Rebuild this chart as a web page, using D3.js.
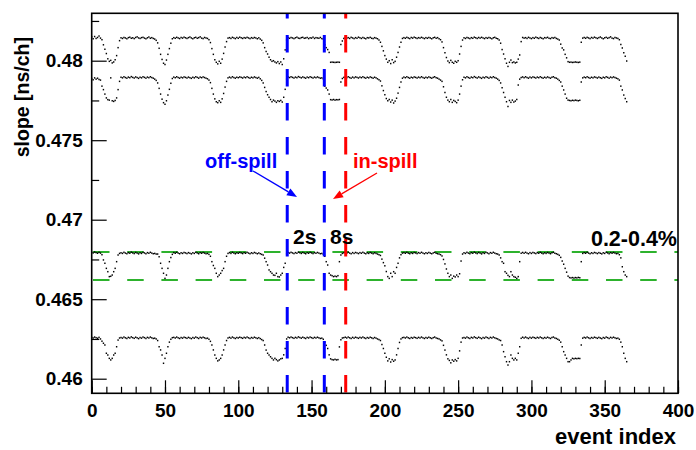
<!DOCTYPE html>
<html><head><meta charset="utf-8">
<script src="https://cdn.jsdelivr.net/npm/d3@7"></script>
<style>
body{margin:0;background:#fff}
svg{display:block}
text{font-family:"Liberation Sans",Arial,Helvetica,sans-serif;font-weight:bold}
</style></head>
<body><svg id="c" width="696" height="450"></svg>
<script>
// ---- data: slope [ns/ch] per event index (index = position in array) ----
const slopeA = [
.48150,.48138,.48152,.48140,.48146,.48155,.48142,.48132,
.48100,.48072,.48045,.48012,.47996,.48002,.47986,.47992,.48006,.48032,.48082,.48126,
.48144,.48140,.48146,.48143,.48138,.48145,.48148,.48141,.48144,.48139,.48146,.48150,.48143,.48140,.48145,.48147,.48142,.48138,.48144,.48149,.48141,.48145,.48140,.48136,.48128,
.48112,.48078,.48040,.48008,.47984,.47976,.48004,.48040,.48076,.48110,.48138,
.48145,.48141,.48147,.48143,.48139,.48146,.48142,.48148,.48144,.48140,.48145,.48149,.48143,.48138,.48144,.48147,.48141,.48145,.48150,.48142,.48139,.48146,.48143,.48140,.48132,
.48114,.48076,.48040,.48006,.47990,.47980,.47996,.47984,.48010,.48046,.48086,.48120,.48142,
.48145,.48140,.48147,.48143,.48139,.48146,.48141,.48148,.48144,.48140,.48145,.48142,.48147,.48143,.48139,.48145,.48141,.48146,.48143,.48138,.48144,.48136,.48128,
.48112,.48082,.48058,.48042,.48022,.48006,.47996,.48000,.47992,.47986,.47994,.47982,.47992,.47976,.48012,.48068,.48130,
.48145,.48141,.48146,.48143,.48139,.48144,.48148,.48142,.48140,.48145,.48147,.48141,.48143,.48146,.48139,.48144,.48142,.48148,.48140,.48145,.48143,.48141,.48146,.48139,.48136,
.48100,.48082,.48070,.48052,.47990,.47991,.47990,.47989,.47990,.47991,.47990,.48102,.48124,.48140,
.48146,.48142,.48145,.48140,.48147,.48143,.48139,.48145,.48141,.48148,.48144,.48140,.48146,.48142,.48138,.48145,.48143,.48147,.48141,.48139,.48145,.48142,.48138,.48130,
.48116,.48090,.48062,.48032,.48010,.47990,.48000,.47982,.48006,.47988,.47996,.48022,.48052,.48086,.48116,.48140,
.48145,.48141,.48147,.48143,.48139,.48146,.48142,.48148,.48144,.48140,.48145,.48142,.48147,.48143,.48139,.48145,.48141,.48146,.48143,.48138,.48144,.48147,.48141,.48145,.48138,.48132,
.48118,.48082,.48050,.48020,.47998,.47988,.48002,.47990,.47984,.47996,.47990,.48000,.48042,.48090,.48130,
.48144,.48140,.48146,.48143,.48139,.48145,.48141,.48148,.48144,.48140,.48146,.48142,.48147,.48143,.48139,.48145,.48141,.48146,.48143,.48138,.48144,.48147,.48141,.48138,.48130,
.48110,.48070,.48042,.48012,.47984,.47964,.47990,.48004,.47988,.47992,.47986,.47990,.48010,.48036,.48120,
.48146,.48142,.48145,.48140,.48147,.48143,.48139,.48145,.48141,.48148,.48144,.48140,.48146,.48142,.48138,.48145,.48143,.48147,.48141,.48139,.48145,.48142,.48146,.48140,.48136,.48130,
.48104,.48080,.48068,.48040,.48018,.47994,.47990,.47991,.47989,.47990,.47992,.47990,.47989,.47991,.48116,.48142,
.48146,.48141,.48147,.48143,.48139,.48146,.48142,.48148,.48144,.48140,.48145,.48149,.48143,.48138,.48144,.48147,.48141,.48145,.48150,.48142,.48139,.48146,.48143,.48140,.48132,
.48102,.48080,.48050,.48028,.47998
];
const slopeB = [
.47888,.47880,.47892,.47884,.47890,.47882,.47878,.47840,
.47818,.47790,.47766,.47755,.47752,.47892,.47748,.47744,.47750,.47766,.47818,.47870,
.47896,.47892,.47899,.47894,.47890,.47897,.47893,.47900,.47895,.47891,.47898,.47894,.47889,.47896,.47892,.47899,.47895,.47890,.47897,.47893,.47899,.47894,.47890,.47884,.47876,
.47860,.47826,.47790,.47758,.47736,.47726,.47748,.47784,.47820,.47858,.47888,
.47897,.47893,.47899,.47894,.47890,.47896,.47892,.47898,.47895,.47891,.47897,.47893,.47889,.47896,.47892,.47899,.47895,.47890,.47897,.47893,.47898,.47894,.47890,.47886,.47878,
.47862,.47826,.47790,.47760,.47742,.47736,.47748,.47738,.47760,.47794,.47834,.47870,.47892,
.47897,.47892,.47899,.47894,.47890,.47896,.47893,.47898,.47895,.47891,.47897,.47893,.47899,.47894,.47890,.47896,.47892,.47898,.47894,.47890,.47895,.47886,.47876,
.47860,.47832,.47806,.47786,.47770,.47756,.47742,.47752,.47746,.47738,.47748,.47744,.47750,.47740,.47770,.47820,.47884,
.47898,.47894,.47899,.47895,.47891,.47897,.47893,.47900,.47896,.47892,.47898,.47894,.47890,.47897,.47893,.47899,.47895,.47891,.47897,.47893,.47898,.47894,.47890,.47892,.47886,
.47840,.47828,.47816,.47790,.47755,.47753,.47756,.47752,.47755,.47754,.47756,.47866,.47888,.47895,
.47898,.47893,.47899,.47894,.47890,.47897,.47892,.47898,.47895,.47891,.47897,.47893,.47899,.47894,.47890,.47896,.47892,.47898,.47894,.47890,.47896,.47892,.47886,.47880,
.47872,.47842,.47812,.47786,.47762,.47748,.47756,.47740,.47752,.47734,.47746,.47764,.47796,.47832,.47866,.47890,
.47897,.47893,.47899,.47894,.47890,.47896,.47892,.47898,.47895,.47891,.47897,.47893,.47899,.47894,.47890,.47896,.47892,.47898,.47894,.47890,.47895,.47899,.47893,.47890,.47884,.47878,
.47870,.47836,.47800,.47770,.47752,.47742,.47756,.47738,.47750,.47744,.47736,.47752,.47790,.47840,.47880,
.47896,.47892,.47899,.47894,.47890,.47897,.47893,.47900,.47895,.47891,.47898,.47894,.47889,.47896,.47892,.47899,.47895,.47890,.47897,.47893,.47899,.47894,.47890,.47884,.47876,
.47860,.47830,.47800,.47770,.47742,.47712,.47750,.47738,.47752,.47740,.47746,.47756,.47847,.47884,.47894,
.47898,.47893,.47899,.47894,.47890,.47897,.47892,.47898,.47895,.47891,.47897,.47893,.47899,.47894,.47890,.47896,.47892,.47898,.47894,.47890,.47896,.47899,.47893,.47890,.47884,.47876,
.47866,.47840,.47816,.47790,.47764,.47752,.47750,.47748,.47751,.47749,.47752,.47750,.47748,.47751,.47866,.47892,
.47897,.47893,.47899,.47894,.47890,.47896,.47892,.47898,.47895,.47891,.47897,.47893,.47889,.47896,.47892,.47899,.47895,.47890,.47897,.47893,.47898,.47894,.47890,.47886,.47878,
.47840,.47816,.47784,.47762,.47742
];
const slopeC = [
.46796,.46791,.46797,.46793,.46789,.46795,.46790,.46780,
.46747,.46726,.46694,.46673,.46642,.46644,.46652,.46673,.46694,.46736,.46778,.46788,
.46792,.46788,.46795,.46790,.46786,.46793,.46789,.46796,.46791,.46787,.46794,.46790,.46785,.46792,.46788,.46795,.46791,.46786,.46793,.46789,.46795,.46790,.46786,.46788,.46784,
.46784,.46767,.46726,.46694,.46663,.46631,.46652,.46694,.46736,.46762,.46782,
.46793,.46789,.46795,.46790,.46786,.46792,.46788,.46794,.46791,.46787,.46793,.46789,.46785,.46792,.46788,.46795,.46791,.46786,.46793,.46789,.46794,.46790,.46786,.46788,.46782,
.46770,.46736,.46712,.46694,.46663,.46642,.46652,.46663,.46680,.46694,.46736,.46770,.46788,
.46793,.46788,.46795,.46790,.46786,.46792,.46789,.46794,.46791,.46787,.46793,.46789,.46795,.46790,.46786,.46792,.46788,.46794,.46790,.46786,.46791,.46786,.46782,
.46778,.46758,.46736,.46715,.46684,.46673,.46663,.46652,.46650,.46663,.46642,.46640,.46652,.46663,.46700,.46726,.46786,
.46794,.46790,.46795,.46791,.46787,.46793,.46789,.46796,.46792,.46788,.46794,.46790,.46786,.46793,.46789,.46795,.46791,.46787,.46793,.46789,.46794,.46790,.46786,.46788,.46782,
.46770,.46736,.46715,.46663,.46652,.46648,.46642,.46645,.46642,.46648,.46736,.46778,.46788,.46792,
.46794,.46789,.46795,.46790,.46786,.46793,.46788,.46794,.46791,.46787,.46793,.46789,.46795,.46790,.46786,.46792,.46788,.46794,.46790,.46786,.46792,.46788,.46784,.46780,
.46775,.46752,.46730,.46710,.46674,.46642,.46631,.46663,.46642,.46673,.46663,.46700,.46726,.46760,.46780,.46790,
.46793,.46789,.46795,.46790,.46786,.46792,.46788,.46794,.46791,.46787,.46793,.46789,.46795,.46790,.46786,.46792,.46788,.46794,.46790,.46786,.46791,.46795,.46789,.46786,.46784,.46780,
.46772,.46750,.46722,.46690,.46663,.46642,.46652,.46631,.46645,.46640,.46652,.46642,.46660,.46740,.46784,
.46792,.46788,.46795,.46790,.46786,.46793,.46789,.46796,.46791,.46787,.46794,.46790,.46785,.46792,.46788,.46795,.46791,.46786,.46793,.46789,.46795,.46790,.46786,.46784,.46778,
.46760,.46736,.46726,.46673,.46663,.46650,.46642,.46673,.46652,.46642,.46638,.46631,.46642,.46736,.46789,
.46794,.46789,.46795,.46790,.46786,.46793,.46788,.46794,.46791,.46787,.46793,.46789,.46795,.46790,.46786,.46792,.46788,.46794,.46790,.46786,.46792,.46795,.46789,.46786,.46782,.46776,
.46763,.46740,.46720,.46694,.46670,.46645,.46636,.46634,.46636,.46633,.46636,.46634,.46637,.46635,.46736,.46788,
.46793,.46789,.46795,.46790,.46786,.46792,.46788,.46794,.46791,.46787,.46793,.46789,.46785,.46792,.46788,.46795,.46791,.46786,.46793,.46789,.46794,.46790,.46786,.46788,.46780,
.46760,.46704,.46673,.46652,.46642
];
const slopeD = [
.46260,.46256,.46262,.46258,.46254,.46260,.46250,.46236,
.46223,.46212,.46160,.46149,.46128,.46118,.46128,.46149,.46160,.46201,.46243,.46256,
.46259,.46255,.46262,.46257,.46253,.46260,.46256,.46263,.46258,.46254,.46261,.46257,.46252,.46259,.46255,.46262,.46258,.46253,.46260,.46256,.46262,.46257,.46253,.46255,.46250,
.46240,.46201,.46181,.46149,.46097,.46128,.46160,.46201,.46230,.46248,.46258,
.46260,.46256,.46262,.46257,.46253,.46259,.46255,.46261,.46258,.46254,.46260,.46256,.46252,.46259,.46255,.46262,.46258,.46253,.46260,.46256,.46261,.46257,.46253,.46255,.46248,
.46235,.46212,.46181,.46149,.46128,.46112,.46118,.46128,.46149,.46181,.46212,.46240,.46256,
.46260,.46255,.46262,.46257,.46253,.46259,.46256,.46261,.46258,.46254,.46260,.46256,.46262,.46257,.46253,.46259,.46255,.46261,.46257,.46253,.46258,.46252,.46246,
.46240,.46212,.46180,.46160,.46149,.46138,.46128,.46118,.46128,.46120,.46112,.46118,.46125,.46128,.46150,.46190,.46250,
.46261,.46257,.46262,.46258,.46254,.46260,.46256,.46263,.46259,.46255,.46261,.46257,.46253,.46260,.46256,.46262,.46258,.46254,.46260,.46256,.46261,.46257,.46253,.46255,.46248,
.46230,.46210,.46190,.46150,.46125,.46120,.46118,.46122,.46118,.46120,.46200,.46245,.46256,.46258,
.46261,.46256,.46262,.46257,.46253,.46260,.46255,.46261,.46258,.46254,.46260,.46256,.46262,.46257,.46253,.46259,.46255,.46261,.46257,.46253,.46259,.46255,.46250,.46246,
.46240,.46215,.46190,.46160,.46135,.46112,.46125,.46105,.46120,.46110,.46118,.46150,.46190,.46228,.46250,.46258,
.46260,.46256,.46262,.46257,.46253,.46259,.46255,.46261,.46258,.46254,.46260,.46256,.46262,.46257,.46253,.46259,.46255,.46261,.46257,.46253,.46258,.46262,.46256,.46253,.46250,.46244,
.46238,.46210,.46180,.46150,.46125,.46115,.46100,.46118,.46110,.46120,.46112,.46128,.46175,.46230,.46256,
.46259,.46255,.46262,.46257,.46253,.46260,.46256,.46263,.46258,.46254,.46261,.46257,.46252,.46259,.46255,.46262,.46258,.46253,.46260,.46256,.46262,.46257,.46253,.46250,.46244,
.46240,.46212,.46170,.46138,.46107,.46086,.46107,.46149,.46128,.46118,.46128,.46118,.46160,.46201,.46254,
.46261,.46256,.46262,.46257,.46253,.46260,.46255,.46261,.46258,.46254,.46260,.46256,.46262,.46257,.46253,.46259,.46255,.46261,.46257,.46253,.46259,.46262,.46256,.46253,.46248,.46242,
.46230,.46201,.46170,.46149,.46128,.46107,.46107,.46118,.46128,.46125,.46128,.46126,.46128,.46127,.46212,.46255,
.46260,.46256,.46262,.46257,.46253,.46259,.46255,.46261,.46258,.46254,.46260,.46256,.46252,.46259,.46255,.46262,.46258,.46253,.46260,.46256,.46261,.46257,.46253,.46255,.46248,
.46230,.46201,.46160,.46128,.46107
];
const series = [slopeA, slopeB, slopeC, slopeD];

const offSpillEvents = [133.4, 158.7];   // blue dashed markers
const inSpillEvents  = [173.3];          // red dashed marker
const bandLevels     = [0.46797, 0.46621]; // green dashed band (0.2-0.4%)

const xMajor = [0,50,100,150,200,250,300,350,400];
const xMinor = d3.range(0,401,10);
const yMajor = [0.46,0.465,0.47,0.475,0.48];
const yMajorLabels = ["0.46","0.465","0.47","0.475","0.48"];
const yMinor = [0.4625,0.4675,0.4725,0.4775,0.4825];

// ---- drawing ----
const svg = d3.select("#c");
const L=91.7, R=678, T=13.3, B=393.3;
const x = d3.scaleLinear().domain([0,400]).range([L,R]);
const y = d3.scaleLinear().domain([0.459082,0.482981]).range([B,T]);

// green band lines
svg.append("g").selectAll("line").data(bandLevels).join("line")
  .attr("x1",L+1.3).attr("x2",R).attr("y1",d=>y(d)).attr("y2",d=>y(d))
  .attr("stroke","#2db22d").attr("stroke-width",2).attr("stroke-dasharray","16.5,17.7");

// data points
series.forEach(s=>{
  svg.append("g").selectAll("rect").data(s).join("rect")
    .attr("x",(d,i)=>x(i)-0.7).attr("y",d=>y(d)-0.75)
    .attr("width",1.4).attr("height",1.5).attr("fill","#000");
});

// vertical markers
function vmark(vals,color){
  svg.append("g").selectAll("line").data(vals).join("line")
    .attr("x1",d=>x(d)).attr("x2",d=>x(d)).attr("y1",T).attr("y2",B)
    .attr("stroke",color).attr("stroke-width",3)
    .attr("stroke-dasharray","17.5,16.5").attr("stroke-dashoffset",12.3);
}
vmark(offSpillEvents,"#0000ff");
vmark(inSpillEvents,"#ff0000");

// axes
const fmt = d=>yMajorLabels[yMajor.indexOf(d)];
const gx = svg.append("g").attr("transform",`translate(0,${B})`);
gx.call(d3.axisBottom(x).tickValues(xMinor).tickSize(-6.5).tickFormat(""));
gx.append("g").call(d3.axisBottom(x).tickValues(xMajor).tickSize(-13).tickPadding(10).tickFormat(d3.format("d")));
const gy = svg.append("g").attr("transform",`translate(${L},0)`);
gy.call(d3.axisLeft(y).tickValues(yMinor).tickSize(-7.5).tickFormat(""));
gy.append("g").call(d3.axisLeft(y).tickValues(yMajor).tickSize(-15).tickPadding(9).tickFormat(fmt));
svg.selectAll(".domain").remove();
svg.selectAll(".tick line").attr("stroke","#000").attr("stroke-width",1.2);
svg.selectAll(".tick text").attr("font-size",19).attr("fill","#000")
  .attr("font-family",'"Liberation Sans",Arial,sans-serif').attr("font-weight","bold");

// frame
svg.append("rect").attr("x",L).attr("y",T).attr("width",R-L).attr("height",B-T)
  .attr("fill","none").attr("stroke","#000").attr("stroke-width",1.6);

// axis titles
svg.append("text").attr("x",R-2).attr("y",444).attr("text-anchor","end")
  .attr("font-size",22).text("event index");
svg.append("text").attr("transform","translate(29,37) rotate(-90)").attr("text-anchor","end")
  .attr("font-size",19.5).text("slope [ns/ch]");

// annotations
svg.append("text").attr("x",205).attr("y",168).attr("font-size",20).attr("fill","#0000ff").text("off-spill");
svg.append("text").attr("x",353).attr("y",168).attr("font-size",20).attr("fill","#ff0000").text("in-spill");
svg.append("text").attr("x",293).attr("y",244).attr("font-size",21).attr("fill","#000").text("2s");
svg.append("text").attr("x",330).attr("y",244).attr("font-size",21).attr("fill","#000").text("8s");
svg.append("text").attr("x",677).attr("y",246).attr("text-anchor","end").attr("font-size",21.5).attr("fill","#000").text("0.2-0.4%");

function arrow(x1,y1,x2,y2,color){
  const a=Math.atan2(y2-y1,x2-x1), len=10, w=4;
  const bx=x2-len*Math.cos(a), by=y2-len*Math.sin(a);
  svg.append("line").attr("x1",x1).attr("y1",y1).attr("x2",bx).attr("y2",by)
    .attr("stroke",color).attr("stroke-width",1.3);
  const p=[[x2,y2],[bx+w*Math.sin(a),by-w*Math.cos(a)],[bx-w*Math.sin(a),by+w*Math.cos(a)]];
  svg.append("polygon").attr("points",p.map(q=>q.join(",")).join(" ")).attr("fill",color);
}
arrow(253,171,297,197,"#0000ff");
arrow(377,173,333,199,"#ff0000");
</script></body></html>
